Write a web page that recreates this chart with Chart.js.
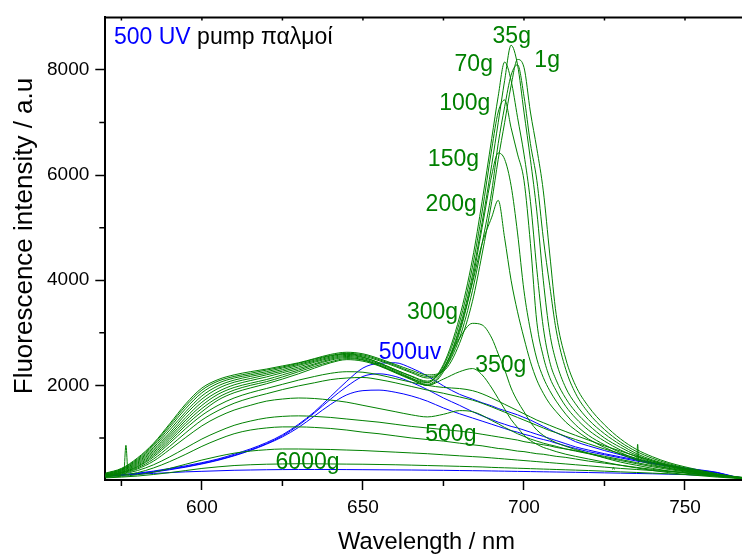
<!DOCTYPE html>
<html>
<head>
<meta charset="utf-8">
<script src="https://cdn.jsdelivr.net/npm/chart.js@4.4.1/dist/chart.umd.min.js"></script>
<style>
    body { margin: 0; background: #fff; }
</style>
</head>
<body>
<canvas id="grafico" width="742" height="559"></canvas>
<script>
// wavelength grid (nm) shared by every spectrum
var wavelength = [570, 575, 580, 585, 590, 595, 600, 605, 610, 615, 620, 625, 630, 635, 640, 645, 650, 655, 660, 665,
    670, 675, 680, 684, 687, 690, 692, 694, 696, 698, 700, 702, 704, 706, 708, 710, 713, 716, 720, 725,
    730, 735, 740, 745, 750, 755, 760, 765, 768];

// green spectra
var s1g = [330, 420, 620, 900, 1270, 1650, 1950, 2110, 2200, 2260, 2310, 2370, 2430, 2510, 2590, 2630, 2600, 2510, 2400, 2290,
    2200, 2270, 2800, 3600, 4500, 5500, 6300, 7000, 7700, 8200, 8050, 7200, 6500, 5700, 4500, 3350, 2500, 2000, 1600, 1250,
    980, 780, 640, 530, 450, 380, 320, 270, 250];
var sHigh2 = [320, 410, 600, 880, 1240, 1610, 1910, 2080, 2170, 2230, 2290, 2350, 2420, 2500, 2570, 2610, 2580, 2490, 2380, 2260,
    2170, 2290, 2900, 3800, 4700, 5700, 6600, 7300, 7900, 8100, 7500, 6600, 5900, 4800, 3900, 3050, 2300, 1850, 1480, 1160,
    920, 740, 610, 510, 430, 370, 310, 265, 245];
var s35g = [310, 400, 580, 850, 1200, 1560, 1860, 2040, 2140, 2200, 2260, 2330, 2400, 2480, 2560, 2600, 2560, 2470, 2360, 2240,
    2140, 2320, 3100, 4100, 5100, 6200, 7000, 7800, 8470, 8100, 7200, 6300, 5300, 4000, 3000, 2450, 1950, 1650, 1350, 1080,
    870, 700, 580, 490, 420, 360, 305, 260, 240];
var s70g = [300, 390, 560, 820, 1150, 1500, 1800, 1990, 2100, 2170, 2230, 2300, 2380, 2460, 2540, 2590, 2540, 2430, 2300, 2170,
    2060, 2400, 3300, 4400, 5500, 6700, 7500, 8150, 7800, 7100, 6400, 5500, 4200, 3100, 2450, 2100, 1750, 1500, 1250, 1000,
    820, 670, 560, 470, 400, 350, 300, 255, 240];
var s100g = [300, 380, 540, 790, 1100, 1450, 1740, 1940, 2060, 2130, 2200, 2270, 2350, 2440, 2520, 2570, 2530, 2430, 2300, 2180,
    2080, 2370, 3200, 4250, 5300, 6500, 7200, 7430, 6900, 6400, 5900, 4700, 3200, 2550, 2150, 1900, 1600, 1380, 1150, 940,
    770, 640, 540, 460, 390, 340, 295, 250, 235];
var s150g = [290, 370, 520, 760, 1060, 1390, 1680, 1880, 2010, 2090, 2160, 2240, 2320, 2410, 2500, 2550, 2510, 2410, 2280, 2140,
    2020, 2300, 3050, 4000, 5000, 6000, 6420, 6300, 5800, 4900, 3800, 3050, 2500, 2150, 1900, 1700, 1450, 1250, 1050, 870,
    720, 600, 510, 440, 380, 330, 290, 250, 235];
var s200g = [290, 360, 500, 730, 1020, 1340, 1620, 1830, 1960, 2040, 2110, 2200, 2290, 2390, 2480, 2530, 2490, 2390, 2260, 2120,
    2000, 2260, 3000, 3950, 4700, 5200, 5520, 4800, 4000, 3400, 2900, 2450, 2100, 1850, 1650, 1500, 1300, 1150, 980, 820,
    690, 580, 490, 420, 370, 325, 285, 250, 235];
var s300g = [280, 350, 480, 700, 980, 1290, 1560, 1770, 1910, 2000, 2070, 2160, 2260, 2360, 2450, 2510, 2480, 2380, 2250, 2130,
    2050, 2330, 2900, 3180, 3150, 2900, 2600, 2300, 1950, 1700, 1500, 1300, 1150, 1050, 970, 910, 840, 780, 710, 620,
    540, 480, 420, 370, 330, 300, 270, 245, 235];
var s350g = [280, 340, 460, 670, 940, 1240, 1500, 1720, 1860, 1950, 2030, 2120, 2220, 2330, 2430, 2490, 2460, 2370, 2240, 2110,
    2000, 2120, 2260, 2320, 2200, 1950, 1750, 1550, 1350, 1200, 1050, 950, 880, 820, 780, 740, 690, 650, 600, 540,
    480, 430, 380, 340, 305, 280, 255, 235, 225];
var sMid1 = [280, 340, 450, 640, 900, 1180, 1430, 1620, 1760, 1860, 1940, 2020, 2100, 2170, 2230, 2260, 2250, 2200, 2130, 2060,
    2000, 1960, 1940, 1900, 1840, 1760, 1700, 1640, 1580, 1520, 1460, 1400, 1340, 1290, 1240, 1190, 1120, 1050, 960, 850,
    750, 650, 560, 480, 410, 350, 300, 255, 240];
var sMid2 = [275, 330, 430, 600, 840, 1100, 1340, 1520, 1660, 1760, 1840, 1920, 1990, 2050, 2110, 2140, 2150, 2110, 2050, 1980,
    1910, 1850, 1780, 1720, 1660, 1590, 1540, 1490, 1440, 1390, 1340, 1290, 1240, 1190, 1140, 1100, 1030, 970, 890, 790,
    700, 610, 530, 460, 395, 340, 295, 250, 235];
var s500g = [270, 320, 410, 560, 780, 1010, 1230, 1400, 1530, 1620, 1700, 1740, 1760, 1750, 1720, 1680, 1620, 1560, 1500, 1440,
    1400, 1450, 1520, 1500, 1430, 1330, 1270, 1200, 1140, 1080, 1030, 980, 940, 900, 870, 840, 790, 750, 700, 630,
    570, 510, 450, 400, 355, 315, 280, 245, 230];
var sLow1 = [270, 310, 380, 490, 640, 810, 980, 1120, 1240, 1320, 1380, 1410, 1420, 1410, 1390, 1360, 1330, 1300, 1260, 1220,
    1190, 1160, 1130, 1100, 1070, 1040, 1020, 1000, 980, 960, 930, 910, 890, 870, 850, 820, 790, 760, 710, 650,
    590, 530, 470, 420, 370, 330, 290, 250, 235];
var sLow2 = [260, 290, 340, 430, 550, 690, 840, 970, 1080, 1150, 1190, 1210, 1210, 1200, 1180, 1150, 1110, 1080, 1040, 1000,
    970, 940, 900, 870, 850, 820, 800, 790, 770, 750, 740, 720, 700, 690, 670, 650, 630, 600, 560, 520,
    480, 440, 400, 370, 340, 310, 280, 245, 230];
var sLow3 = [250, 270, 300, 350, 420, 500, 580, 650, 710, 750, 775, 790, 790, 785, 780, 770, 760, 745, 730, 715,
    700, 680, 660, 645, 635, 620, 610, 600, 590, 580, 570, 560, 550, 540, 530, 520, 505, 490, 470, 445,
    420, 400, 380, 360, 340, 315, 290, 250, 235];
var s6000g = [240, 255, 275, 305, 340, 380, 420, 450, 475, 490, 500, 505, 510, 508, 505, 502, 500, 495, 490, 483,
    475, 468, 460, 453, 448, 440, 436, 432, 428, 424, 420, 416, 412, 408, 404, 400, 394, 388, 380, 368,
    355, 343, 330, 318, 305, 290, 275, 250, 240];

// blue spectra (500 UV)
var uvA = [280, 300, 330, 370, 420, 470, 530, 600, 690, 790, 910, 1060, 1260, 1500, 1790, 2080, 2330, 2420, 2430, 2330,
    2180, 1990, 1830, 1740, 1670, 1610, 1560, 1520, 1480, 1440, 1390, 1340, 1280, 1220, 1160, 1100, 1020, 930, 850, 760,
    680, 590, 530, 480, 430, 390, 345, 270, 240];
var uvB = [275, 295, 320, 360, 405, 455, 515, 585, 670, 770, 890, 1040, 1240, 1480, 1740, 1980, 2170, 2220, 2170, 2060,
    1920, 1760, 1620, 1500, 1420, 1350, 1300, 1260, 1220, 1190, 1150, 1110, 1070, 1030, 990, 950, 890, 830, 770, 700,
    640, 580, 520, 470, 420, 380, 340, 265, 240];
var uvC = [270, 290, 315, 350, 395, 445, 505, 575, 660, 760, 880, 1020, 1200, 1420, 1640, 1820, 1900, 1910, 1870, 1800,
    1700, 1570, 1460, 1380, 1320, 1260, 1220, 1180, 1140, 1110, 1070, 1040, 1000, 970, 940, 900, 850, 800, 740, 680,
    620, 560, 510, 460, 415, 375, 335, 260, 235];
var uvD = [280, 295, 310, 325, 340, 355, 365, 375, 385, 390, 395, 398, 400, 400, 400, 398, 396, 394, 392, 390,
    387, 384, 380, 377, 375, 372, 370, 368, 366, 364, 362, 360, 358, 356, 354, 352, 349, 346, 342, 336,
    330, 324, 318, 310, 302, 292, 280, 260, 245];

// narrow spikes
var spike1Wl = [575.9, 576.4, 576.9];
var spike1Val = [420, 860, 430];
var spike2Wl = [735.0, 735.3, 735.6];
var spike2Val = [560, 880, 520];
var spike3Wl = [727.5, 727.8, 728.1];
var spike3Val = [400, 440, 400];

// ticks
var majorX = [600, 650, 700, 750];
var minorX = [575, 625, 675, 725];
var majorY = [2000, 4000, 6000, 8000];
var minorY = [1000, 3000, 5000, 7000];

// curve labels
var labelText = ['35g', '70g', '1g', '100g', '150g', '200g', '300g', '350g', '500g', '6000g', '500uv'];
var labelWl = [696.2, 684.4, 707.2, 681.6, 678.1, 677.4, 671.6, 692.8, 677.3, 632.8, 664.6];
var labelVal = [8517, 7988, 8052, 7243, 6171, 5320, 3272, 2248, 945, 417, 2508];
var labelBlue = [false, false, false, false, false, false, false, false, false, false, true];

var verde = '#008000';
var blu = '#0000ff';
var fontFam = 'Arial, "Liberation Sans", sans-serif';

function serie(xs, ys) {
    var out = [];
    for (var i = 0; i < xs.length; i++) {
        out.push({x: xs[i], y: ys[i]});
    }
    return out;
}

function linea(xs, ys, colore) {
    return {
        data: serie(xs, ys),
        borderColor: colore,
        borderWidth: 1,
        pointRadius: 0,
        fill: false,
        cubicInterpolationMode: 'monotone'
    };
}

var greens = [s1g, sHigh2, s35g, s70g, s100g, s150g, s200g, s300g, s350g, sMid1, sMid2, s500g, sLow1, sLow2, sLow3, s6000g];
var blues = [uvA, uvB, uvC, uvD];
var datasets = [];
for (var i = 0; i < greens.length; i++) {
    datasets.push(linea(wavelength, greens[i], verde));
}
for (var j = 0; j < blues.length; j++) {
    datasets.push(linea(wavelength, blues[j], blu));
}
datasets.push(linea(spike1Wl, spike1Val, verde));
datasets.push(linea(spike2Wl, spike2Val, verde));
datasets.push(linea(spike3Wl, spike3Val, verde));

var extras = {
    id: 'extras',
    afterDatasetsDraw: function (chart) {
        var ctx = chart.ctx;
        var a = chart.chartArea;
        var sx = chart.scales.x;
        var sy = chart.scales.y;
        ctx.save();
        ctx.strokeStyle = '#000';
        // top frame
        ctx.lineWidth = 2;
        ctx.beginPath();
        ctx.moveTo(a.left - 1, a.top);
        ctx.lineTo(a.right, a.top);
        ctx.stroke();
        // minor ticks and top ticks
        ctx.lineWidth = 1.5;
        ctx.beginPath();
        minorX.forEach(function (v) {
            var p = sx.getPixelForValue(v);
            ctx.moveTo(p, a.bottom);
            ctx.lineTo(p, a.bottom + 6);
        });
        minorY.forEach(function (v) {
            var p = sy.getPixelForValue(v);
            ctx.moveTo(a.left, p);
            ctx.lineTo(a.left - 6, p);
        });
        majorX.concat(minorX).forEach(function (v) {
            var p = sx.getPixelForValue(v);
            ctx.moveTo(p, a.top);
            ctx.lineTo(p, a.top + 3);
        });
        ctx.stroke();

        // curve labels
        ctx.font = '23px ' + fontFam;
        ctx.textBaseline = 'alphabetic';
        ctx.textAlign = 'center';
        for (var k = 0; k < labelText.length; k++) {
            ctx.fillStyle = labelBlue[k] ? blu : verde;
            ctx.fillText(labelText[k], sx.getPixelForValue(labelWl[k]), sy.getPixelForValue(labelVal[k]));
        }
        // title inside the plot
        ctx.textAlign = 'left';
        var tx = sx.getPixelForValue(572.7);
        var ty = sy.getPixelForValue(8485);
        ctx.fillStyle = blu;
        ctx.fillText('500 UV', tx, ty);
        var w = ctx.measureText('500 UV ').width;
        ctx.fillStyle = '#000';
        ctx.fillText('pump παλμοί', tx + w, ty);

        // axis titles
        ctx.fillStyle = '#000';
        ctx.textAlign = 'center';
        ctx.textBaseline = 'middle';
        ctx.font = '23.7px ' + fontFam;
        ctx.fillText('Wavelength / nm', 426.5, 542.6);
        ctx.save();
        ctx.translate(24.6, 236);
        ctx.rotate(-Math.PI / 2);
        ctx.font = '26px ' + fontFam;
        ctx.fillText('Fluorescence intensity / a.u', 0, 0);
        ctx.restore();
        ctx.restore();
    }
};

var ctx = document.getElementById('grafico');
var chart = new Chart(ctx, {
    type: 'line',
    data: {
        datasets: datasets
    },
    options: {
        responsive: false,
        animation: false,
        events: [],
        layout: {
            padding: {top: 6.7, right: 0, left: 0, bottom: 0}
        },
        plugins: {
            legend: {display: false},
            tooltip: {enabled: false}
        },
        scales: {
            x: {
                type: 'linear',
                min: 570,
                max: 767.7,
                afterBuildTicks: function (axis) {
                    axis.ticks = majorX.map(function (v) { return {value: v}; });
                },
                afterFit: function (axis) {
                    axis.height = 79;
                },
                grid: {drawOnChartArea: false, drawTicks: true, tickLength: 10, tickColor: '#000', tickWidth: 1.5},
                border: {display: true, color: '#000', width: 2},
                ticks: {
                    color: '#000',
                    padding: 6,
                    maxRotation: 0,
                    font: {size: 19, family: fontFam},
                    callback: function (v) { return String(v); }
                }
            },
            y: {
                type: 'linear',
                min: 200,
                max: 9000,
                afterBuildTicks: function (axis) {
                    axis.ticks = majorY.map(function (v) { return {value: v}; });
                },
                afterFit: function (axis) {
                    axis.width = 105.3;
                },
                grid: {drawOnChartArea: false, drawTicks: true, tickLength: 10, tickColor: '#000', tickWidth: 1.5},
                border: {display: true, color: '#000', width: 2},
                ticks: {
                    color: '#000',
                    padding: 6,
                    font: {size: 19, family: fontFam},
                    callback: function (v) { return String(v); }
                }
            }
        }
    },
    plugins: [extras]
});
</script>
</body>
</html>
